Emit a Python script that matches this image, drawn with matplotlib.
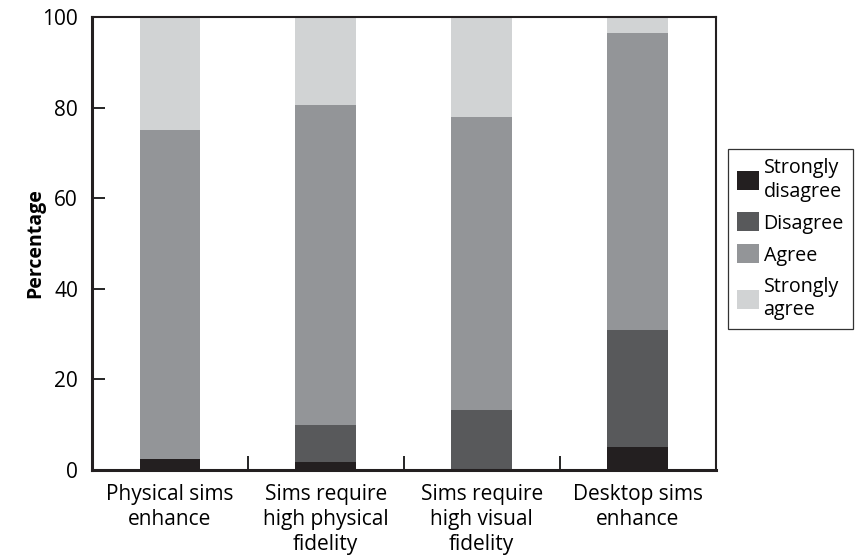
import matplotlib
matplotlib.use("Agg")
import matplotlib.pyplot as plt
import numpy as np

plt.rcParams['font.family'] = ['Open Sans', 'DejaVu Sans']

categories = ["Physical sims\nenhance", "Sims require\nhigh physical\nfidelity",
              "Sims require\nhigh visual\nfidelity", "Desktop sims\nenhance"]
series_names = ["Strongly\ndisagree", "Disagree", "Agree", "Strongly\nagree"]
strongly_disagree = [2.4, 1.8, 0.0, 5.0]
disagree = [0.0, 8.2, 13.3, 25.8]
agree = [72.6, 70.6, 64.7, 65.7]
strongly_agree = [25.0, 19.4, 22.0, 3.5]
colors = ["#231f20", "#58595b", "#939598", "#d1d3d4"]
yticks = [0, 20, 40, 60, 80, 100]

fig = plt.figure(figsize=(8.55, 5.57), dpi=100)
ax = fig.add_axes([92/855, 1-470/557, (715.5-92)/855, (470-17)/557])

x = np.arange(len(categories))
bottom = np.zeros(len(categories))
handles = []
for name, vals, c in zip(series_names, [strongly_disagree, disagree, agree, strongly_agree], colors):
    vals = np.array(vals)
    b = ax.bar(x, vals, width=0.39, bottom=bottom, color=c, edgecolor='none', label=name)
    handles.append(b)
    bottom += vals

ax.set_xlim(-0.5, len(categories) - 0.5)
ax.set_ylim(0, 100)
ax.set_yticks(yticks)
ax.tick_params(axis='y', direction='in', length=9, width=1.2, labelsize=15, pad=10)
ax.set_xticks(x)
ax.set_xticklabels(categories, fontsize=15, linespacing=1.25)
ax.tick_params(axis='x', which='major', length=0, pad=10)
ax.set_xticks(x[:-1] + 0.5, minor=True)
ax.tick_params(axis='x', which='minor', direction='in', length=10, width=1.2)

for side in ['left', 'bottom']:
    ax.spines[side].set_linewidth(2.2)
for side in ['top', 'right']:
    ax.spines[side].set_linewidth(1.5)
for s in ax.spines.values():
    s.set_color('#231f20')

ax.set_ylabel("Percentage", fontsize=14, fontweight='bold', labelpad=-2)

leg = fig.legend(handles=handles, labels=series_names, loc='upper left',
                 bbox_to_anchor=(728/855, 1-149/557), bbox_transform=fig.transFigure,
                 fontsize=14.2, frameon=True, fancybox=False, edgecolor='black',
                 handlelength=1.1, handleheight=1.1, handletextpad=0.25,
                 labelspacing=0.55, borderpad=0.45, borderaxespad=0)
leg.get_frame().set_linewidth(0.9)
for t in leg.get_texts():
    t.set_linespacing(1.25)

fig.savefig("out.png", dpi=100)
